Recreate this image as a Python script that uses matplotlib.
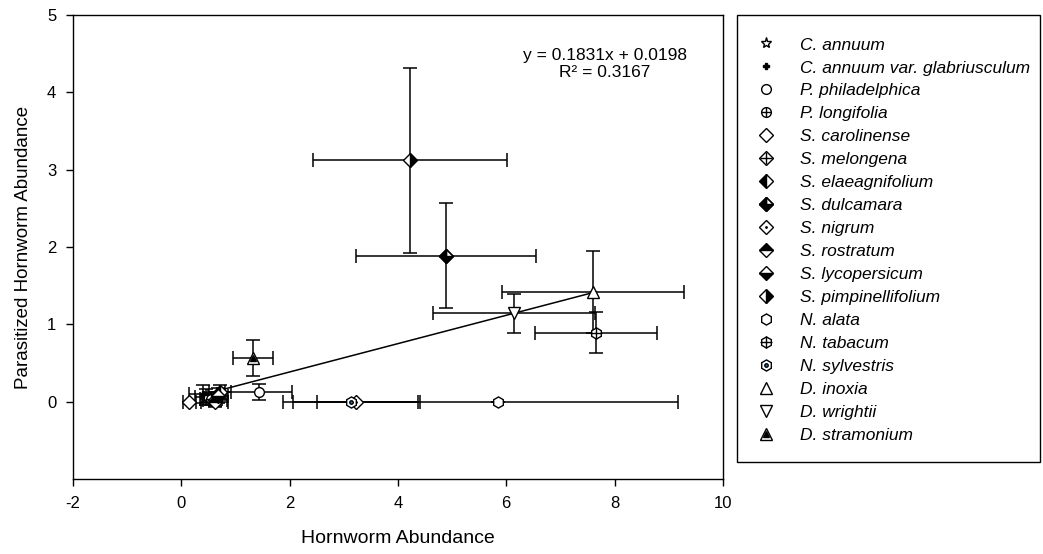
import matplotlib.pyplot as plt
from matplotlib.lines import Line2D
from matplotlib.patches import Rectangle
from matplotlib.legend_handler import HandlerTuple

plt.rcParams['font.family'] = ['Liberation Sans', 'DejaVu Sans']
plt.rcParams['axes.unicode_minus'] = False

# data (means +- SE)
species = ["C. annuum", "C. annuum var. glabriusculum", "P. philadelphica", "P. longifolia",
           "S. carolinense", "S. melongena", "S. elaeagnifolium", "S. dulcamara", "S. nigrum",
           "S. rostratum", "S. lycopersicum", "S. pimpinellifolium", "N. alata", "N. tabacum",
           "N. sylvestris", "D. inoxia", "D. wrightii", "D. stramonium"]
hornworm = [0.45, 0.40, 1.43, 0.55, 0.15, 0.62, 0.72, 4.89, 3.22, 0.62, 0.68, 4.22, 5.84, 7.66, 3.14, 7.61, 6.14, 1.33]
hornworm_se = [0.20, 0.25, 0.62, 0.20, 0.12, 0.22, 0.20, 1.66, 1.15, 0.25, 0.18, 1.79, 3.33, 1.13, 1.26, 1.68, 1.50, 0.37]
parasitized = [0.06, 0.10, 0.13, 0.04, 0.0, 0.03, 0.13, 1.89, 0.0, 0.0, 0.08, 3.12, 0.0, 0.895, 0.0, 1.42, 1.146, 0.565]
parasitized_se = [0.10, 0.12, 0.10, 0.08, 0.0, 0.10, 0.09, 0.68, 0.0, 0.05, 0.10, 1.20, 0.0, 0.27, 0.0, 0.53, 0.25, 0.23]

fit_slope = 0.1831
fit_intercept = 0.0198
fit_xmin = 0.75

# marker layers for each species (drawn on top of each other)
W, K = 'white', 'black'
styles = [
    [dict(marker='*', ms=8, mfc=W)],
    [dict(marker='P', ms=5, mfc=K)],
    [dict(marker='o', ms=7, mfc=W)],
    [dict(marker='o', ms=7, mfc=W), dict(marker='+', ms=7)],
    [dict(marker='D', ms=7, mfc=W)],
    [dict(marker='D', ms=7, mfc=W), dict(marker='+', ms=8)],
    [dict(marker='D', ms=7, mfc=K, fillstyle='left', mfcalt=W)],
    [dict(marker='D', ms=7, mfc=K, fillstyle='bottom', mfcalt=W),
     dict(marker='D', ms=7, mfc=K, fillstyle='left', mfcalt='none')],
    [dict(marker='D', ms=7, mfc=W), dict(marker='.', ms=2)],
    [dict(marker='D', ms=7, mfc=K, fillstyle='top', mfcalt=W)],
    [dict(marker='D', ms=7, mfc=K, fillstyle='bottom', mfcalt=W)],
    [dict(marker='D', ms=7, mfc=K, fillstyle='right', mfcalt=W)],
    [dict(marker='h', ms=8, mfc=W)],
    [dict(marker='h', ms=8, mfc=W), dict(marker='+', ms=8)],
    [dict(marker='h', ms=8, mfc=W), dict(marker='.', ms=5)],
    [dict(marker='^', ms=8, mfc=W)],
    [dict(marker='v', ms=8, mfc=W)],
    [dict(marker='^', ms=8, mfc=W), dict(marker='^', ms=4, mfc=K)],
]


def layer_kw(s):
    kw = dict(marker=s['marker'], markersize=s['ms'], markeredgecolor='black',
              markeredgewidth=1.0, linestyle='none')
    if 'mfc' in s:
        kw['markerfacecolor'] = s['mfc']
    if 'fillstyle' in s:
        kw['fillstyle'] = s['fillstyle']
        kw['markerfacecoloralt'] = s['mfcalt']
    return kw


fig = plt.figure(figsize=(10.43, 5.54), dpi=100)
ax = fig.add_axes([0.070, 0.135, 0.623, 0.838])

ax.errorbar(hornworm, parasitized, xerr=hornworm_se, yerr=parasitized_se, fmt='none',
            ecolor='black', elinewidth=1.1, capsize=5, capthick=1.1, zorder=2)

fx = [fit_xmin, max(hornworm)]
ax.plot(fx, [fit_slope * v + fit_intercept for v in fx], color='black', lw=1.1, zorder=2.5)

handles = []
for i, name in enumerate(species):
    layers = []
    for s in styles[i]:
        ax.plot([hornworm[i]], [parasitized[i]], zorder=3, **layer_kw(s))
        layers.append(Line2D([], [], **layer_kw(s)))
    handles.append(tuple(layers))

ax.set_xlim(-2, 10)
ax.set_ylim(-1, 5)
ax.set_xticks([-2, 0, 2, 4, 6, 8, 10])
ax.set_yticks([0, 1, 2, 3, 4, 5])
ax.tick_params(direction='out', length=5, width=1, labelsize=12, pad=7)
for sp in ax.spines.values():
    sp.set_linewidth(1)

ax.set_xlabel("Hornworm Abundance", fontsize=14, labelpad=14)
ax.set_ylabel("Parasitized Hornworm Abundance", fontsize=13.5, labelpad=11)

ax.text(0.819, 0.895, "y = 0.1831x + 0.0198\nR\u00b2 = 0.3167", transform=ax.transAxes,
        ha='center', va='center', fontsize=12.5, linespacing=1.15)

# legend box
fig.patches.append(Rectangle((0.7066, 0.166), 0.2905, 0.807, transform=fig.transFigure,
                             fill=False, edgecolor='black', lw=1))
fig.legend(handles, species, loc='upper left', bbox_to_anchor=(0.717, 0.945), frameon=False,
           prop=dict(style='italic', size=12.5), handler_map={tuple: HandlerTuple(ndivide=1)},
           handlelength=1.3, handletextpad=1.3, labelspacing=0.45, borderaxespad=0)

fig.savefig("out.png", dpi=100)
